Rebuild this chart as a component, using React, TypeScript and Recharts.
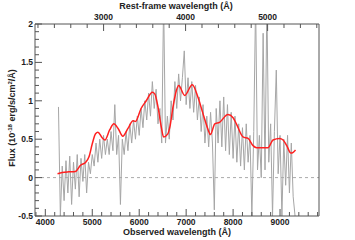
import { ComposedChart, Line, XAxis, YAxis, ReferenceLine } from 'recharts';

// redshift factor between observed and rest-frame wavelength
const onePlusZ = 1.747;

// observed spectrum, sampled every 40 A starting at 4280 A
const specStart = 4280;
const specStep = 40;
const specFlux = [
  0.92, -0.5, 0.15, -0.3, 0.22, -0.2, 0.28, -0.35, 0.2, -0.15,
  0.3, -0.25, 0.25, -0.05, 0.3, -0.2, 0.2, 0.05, 0.3, 0.15,
  0.45, 0.2, 0.5, 0.25, 0.55, 0.3, 0.5, 0.3, 0.6, 0.35,
  0.95, 0.3, 0.55, -0.35, 0.5, 0.3, 0.6, 0.35, 0.7, 0.45,
  0.75, 0.5, 0.8, 0.55, 0.9, 0.65, 1.0, 0.75, 1.1, 0.8,
  1.25, 0.9, 1.15, 0.7, 0.9, 0.45, 2.3, 0.45, 0.8, 0.5,
  1.0, 0.75, 1.25, 0.9, 1.35, 1.0, 1.3, 1.65, 0.95, 1.3,
  0.9, 1.25, 0.85, 1.2, 0.75, 1.05, 0.6, 0.95, 0.45, 0.8,
  0.4, 0.85, 0.45, -0.42, 0.9, 0.45, 1.0, 0.4, 1.05, 0.35,
  0.95, 0.3, 0.85, 0.25, 0.8, 0.2, 0.7, 0.15, 0.65, 0.1,
  0.7, 0.2, 0.55, -0.5, 0.6, 2.3, 0.1, 0.55, 0.0, 1.88,
  0.1, 2.3, 0.2, 0.7, -0.5, 0.6, 1.4, 0.05, 0.55, -0.5,
  0.5, -0.1, 0.55, -0.2, 0.45, -0.25, -0.5,
];

// smooth model (red)
const modelWave = [
  4260, 4360, 4500, 4640, 4750, 4860, 4930, 5000, 5070, 5120,
  5210, 5270, 5370, 5460, 5550, 5650, 5760, 5870, 5920, 6040,
  6150, 6280, 6330, 6400, 6470, 6520, 6610, 6650, 6720, 6790,
  6840, 6970, 7130, 7250, 7360, 7470, 7515, 7610, 7710, 7890,
  8000, 8070, 8210, 8320, 8420, 8500, 8745, 8850, 8990, 9065,
  9140, 9230, 9280, 9330,
];
const modelFlux = [
  0.05, 0.066, 0.075, 0.08, 0.16, 0.2, 0.27, 0.44, 0.57, 0.59,
  0.52, 0.49, 0.62, 0.7, 0.64, 0.54, 0.64, 0.74, 0.73, 0.9,
  1.0, 1.11, 1.09, 0.92, 0.66, 0.53, 0.57, 0.65, 0.92, 1.13,
  1.2, 1.07, 1.21, 1.05, 0.83, 0.62, 0.56, 0.7, 0.72, 0.82,
  0.78, 0.7, 0.53, 0.51, 0.42, 0.39, 0.39, 0.49, 0.51, 0.49,
  0.42, 0.32, 0.33, 0.36,
];

const obsTicks = [
  3800, 4000, 4200, 4400, 4600, 4800, 5000, 5200, 5400, 5600, 5800,
  6000, 6200, 6400, 6600, 6800, 7000, 7200, 7400, 7600, 7800,
  8000, 8200, 8400, 8600, 8800, 9000, 9200, 9400, 9600, 9800,
];
const restTicks = [
  2200, 2400, 2600, 2800, 3000, 3200, 3400, 3600, 3800, 4000,
  4200, 4400, 4600, 4800, 5000, 5200, 5400, 5600,
];
const fluxTicks = [
  -0.5, -0.4, -0.3, -0.2, -0.1, 0, 0.1, 0.2, 0.3, 0.4, 0.5, 0.6, 0.7, 0.8, 0.9,
  1, 1.1, 1.2, 1.3, 1.4, 1.5, 1.6, 1.7, 1.8, 1.9, 2,
];

const obsDomain = [3780, 9830];
const restDomain = [obsDomain[0] / onePlusZ, obsDomain[1] / onePlusZ];

const specData = specFlux.map((f, i) => ({ w: specStart + i * specStep, f }));
const modelData = modelWave.map((w, i) => ({ w, f: modelFlux[i] }));
// empty carrier so the rest-frame axis gets built
const restData = restDomain.map((r) => ({ r, f: null }));

const axisColor = '#555';
const textColor = '#222';
const font = '"Liberation Sans", Arial, sans-serif';

function BottomTick({ x, y, payload }: any) {
  const v = payload.value;
  const major = v % 1000 === 0;
  return (
    <g>
      <line x1={x} x2={x} y1={y} y2={y - (major ? 7 : 4)} stroke={axisColor} />
      {major && (
        <text x={x} y={y + 8.5} textAnchor="middle" fontSize={8.5} fontWeight="bold" fontFamily={font} fill={textColor}>
          {v}
        </text>
      )}
    </g>
  );
}

function TopTick({ x, y, payload }: any) {
  const v = payload.value;
  const major = v % 1000 === 0;
  return (
    <g>
      <line x1={x} x2={x} y1={y} y2={y + (major ? 7 : 4)} stroke={axisColor} />
      {major && (
        <text x={x} y={y - 4.5} textAnchor="middle" fontSize={8.5} fontWeight="bold" fontFamily={font} fill={textColor}>
          {v}
        </text>
      )}
    </g>
  );
}

function LeftTick({ x, y, payload }: any) {
  const v = payload.value;
  const major = Math.abs(v * 2 - Math.round(v * 2)) < 1e-6;
  return (
    <g>
      <line x1={x} x2={x + (major ? 7 : 4)} y1={y} y2={y} stroke={axisColor} />
      {major && (
        <text x={x - 2} y={y + 3} textAnchor="end" fontSize={8.5} fontWeight="bold" fontFamily={font} fill={textColor}>
          {String(v)}
        </text>
      )}
    </g>
  );
}

export default function SpectrumChart() {
  return (
    <div style={{ position: 'absolute', left: 0, top: 0, width: 355, height: 240, background: '#fff' }}>
      <ComposedChart width={355} height={240} margin={{ top: 0, right: 0, bottom: 0, left: 0 }}>
        <XAxis
          xAxisId="bottom"
          type="number"
          dataKey="w"
          domain={obsDomain}
          allowDataOverflow
          ticks={obsTicks}
          interval={0}
          tick={<BottomTick />}
          tickSize={0}
          tickMargin={0}
          tickLine={false}
          height={24}
          stroke={axisColor}
          label={{
            content: () => (
              <text x={177} y={235} textAnchor="middle" fontSize={9} fontWeight="bold" fontFamily={font} fill={textColor}>
                Observed wavelength (Å)
              </text>
            ),
          }}
        />
        <XAxis
          xAxisId="top"
          orientation="top"
          type="number"
          dataKey="r"
          domain={restDomain}
          allowDataOverflow
          ticks={restTicks}
          interval={0}
          tick={<TopTick />}
          tickSize={0}
          tickMargin={0}
          tickLine={false}
          height={24}
          stroke={axisColor}
          label={{
            content: () => (
              <text x={176} y={9} textAnchor="middle" fontSize={9} fontWeight="bold" fontFamily={font} fill={textColor}>
                Rest-frame wavelength (Å)
              </text>
            ),
          }}
        />
        <YAxis
          yAxisId="left"
          type="number"
          domain={[-0.5, 2]}
          allowDataOverflow
          ticks={fluxTicks}
          interval={0}
          tick={<LeftTick />}
          tickSize={0}
          tickMargin={0}
          tickLine={false}
          width={35}
          stroke={axisColor}
          label={{
            content: () => (
              <text
                x={13}
                y={118}
                transform="rotate(-90 13 118)"
                textAnchor="middle"
                dominantBaseline="middle"
                fontSize={9}
                fontWeight="bold"
                fontFamily={font}
                fill={textColor}
              >
                Flux (10
                <tspan dy={-3} fontSize={6}>-18</tspan>
                <tspan dy={3}> erg/s/cm</tspan>
                <tspan dy={-3} fontSize={6}>2</tspan>
                <tspan dy={3}>/Å)</tspan>
              </text>
            ),
          }}
        />
        <YAxis
          yAxisId="right"
          orientation="right"
          type="number"
          domain={[-0.5, 2]}
          tick={false}
          tickLine={false}
          width={36}
          stroke={axisColor}
        />
        <ReferenceLine xAxisId="bottom" yAxisId="left" y={0} stroke="#aaa" strokeDasharray="3 3" />
        <Line
          xAxisId="top"
          yAxisId="left"
          data={restData}
          dataKey="f"
          stroke="none"
          dot={false}
          legendType="none"
          isAnimationActive={false}
        />
        <Line
          xAxisId="bottom"
          yAxisId="left"
          data={specData}
          dataKey="f"
          type="linear"
          stroke="#a6a6a6"
          strokeWidth={1}
          dot={false}
          isAnimationActive={false}
        />
        <Line
          xAxisId="bottom"
          yAxisId="left"
          data={modelData}
          dataKey="f"
          type="monotone"
          stroke="#ff2020"
          strokeWidth={1.5}
          dot={false}
          isAnimationActive={false}
        />
      </ComposedChart>
    </div>
  );
}
